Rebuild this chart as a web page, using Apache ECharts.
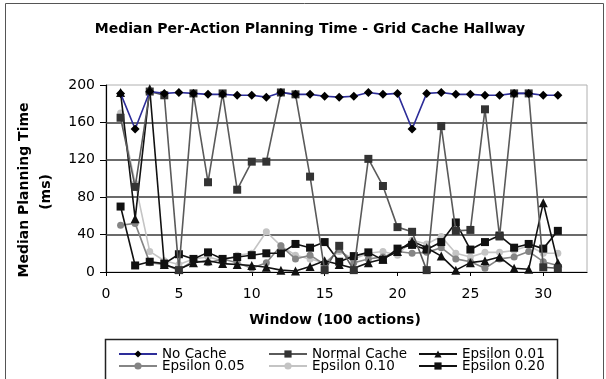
<!DOCTYPE html>
<html>
<head>
<meta charset="utf-8">
<script src="https://cdn.jsdelivr.net/npm/echarts@6/dist/echarts.min.js"></script>
<style>
  html, body { margin: 0; padding: 0; background: #fff; }
  #chart { width: 606px; height: 379px; }
</style>
</head>
<body>
<div id="chart"></div>
<script>
// window numbers (x)
const windows = [1,2,3,4,5,6,7,8,9,10,11,12,13,14,15,16,17,18,19,20,21,22,23,24,25,26,27,28,29,30,31]

// median planning time, ms
const noCache     = [191,153,193,191,192,191,190,190,189,189,187,192,190,190,188,187,188,192,190,191,153,191,192,190,190,189,189,191,191,189,189]
const normalCache = [165,91,193,189,2,191,96,191,88,118,118,192,190,102,2,28,2,121,92,48,43,2,156,44,45,174,38,191,191,5,4]
const eps001      = [192,57,196,8,3,10,12,9,8,7,5,2,1,6,12,8,4,10,14,22,33,26,17,2,10,12,16,4,3,74,10]
const eps005      = [50,52,10,8,2,12,10,14,10,4,10,28,14,18,8,24,10,14,16,22,20,21,26,14,11,4,14,16,22,11,7]
const eps010      = [170,95,22,12,8,14,16,12,18,20,43,28,18,14,10,22,14,20,22,18,34,30,38,20,16,21,21,23,28,20,20]
const eps020      = [70,7,11,9,19,14,21,14,16,18,20,20,30,26,32,11,17,21,13,25,29,24,32,53,24,32,39,26,30,25,44]

const yTicks = [0, 40, 80, 120, 160, 200]
const gridLines = [40, 80, 120, 160]

const font = 'DejaVu Sans'

const pairs = (arr) => windows.map((w, i) => [w, arr[i]])

const mkSeries = (name, arr, symbol, size, lineColor, markColor, z) => ({
  name: name,
  type: 'line',
  data: pairs(arr),
  symbol: symbol,
  symbolSize: size,
  z: z,
  lineStyle: { color: lineColor, width: 1.6 },
  itemStyle: { color: markColor, borderWidth: 0 },
  emphasis: { disabled: true },
})

const series = [
  mkSeries('Epsilon 0.10', eps010, 'circle', 7, '#c4c4c4', '#c4c4c4', 2),
  mkSeries('Epsilon 0.05', eps005, 'circle', 7, '#858585', '#858585', 3),
  mkSeries('Epsilon 0.20', eps020, 'rect', 8, '#111', '#111', 4),
  mkSeries('Epsilon 0.01', eps001, 'triangle', 9, '#111', '#111', 5),
  mkSeries('Normal Cache', normalCache, 'rect', 8, '#5a5a5a', '#333', 6),
  mkSeries('No Cache', noCache, 'diamond', 9, '#2d2d99', '#000', 7),
]

// gridlines as mark lines so the top border stays light
series[0].markLine = {
  silent: true,
  symbol: 'none',
  label: { show: false },
  lineStyle: { color: '#3a3a3a', width: 1.5, type: 'solid' },
  data: gridLines.map((v) => ({ yAxis: v })),
  z: 1,
}

const legendText = { fontFamily: font, fontSize: 13.5, color: '#000', width: 104, lineHeight: 12 }

const chart = echarts.init(document.getElementById('chart'), null, { renderer: 'canvas' })

chart.setOption({
  animation: false,
  backgroundColor: '#fff',
  grid: {
    left: 106, top: 85, width: 481, height: 187,
    show: true, borderColor: '#b0b0b0', borderWidth: 1, backgroundColor: 'transparent',
  },
  xAxis: {
    type: 'value',
    min: 0, max: 33, interval: 5,
    axisLine: { show: true, onZero: false, lineStyle: { color: '#000', width: 1.2 } },
    axisTick: { show: true, inside: false, length: 4, lineStyle: { color: '#000' } },
    axisLabel: { fontFamily: font, fontSize: 14, color: '#000', margin: 15, showMaxLabel: false },
    splitLine: { show: false },
  },
  yAxis: {
    type: 'value',
    min: yTicks[0], max: yTicks[yTicks.length - 1], interval: 40,
    axisLine: { show: true, lineStyle: { color: '#000', width: 1.2 } },
    axisTick: { show: true, length: 6, lineStyle: { color: '#000' } },
    axisLabel: { fontFamily: font, fontSize: 14, color: '#000', margin: 11 },
    splitLine: { show: false },
  },
  legend: [
    {
      data: ['No Cache', 'Normal Cache', 'Epsilon 0.01'],
      left: 113, top: 342, orient: 'horizontal',
      itemWidth: 38, itemHeight: 9, itemGap: 2,
      textStyle: legendText, selectedMode: false,
    },
    {
      data: ['Epsilon 0.05', 'Epsilon 0.10', 'Epsilon 0.20'],
      left: 113, top: 354, orient: 'horizontal',
      itemWidth: 38, itemHeight: 9, itemGap: 2,
      textStyle: legendText, selectedMode: false,
    },
  ],
  graphic: [
    // outer frame
    { type: 'rect', shape: { x: 5.5, y: 3.5, width: 598, height: 400 }, style: { fill: 'none', stroke: '#555', lineWidth: 1 }, silent: true },
    // legend box
    { type: 'rect', shape: { x: 105.5, y: 339.5, width: 452, height: 60 }, style: { fill: 'none', stroke: '#222', lineWidth: 1.5 }, silent: true },
    { type: 'text', x: 310, y: 29, style: { text: 'Median Per-Action Planning Time - Grid Cache Hallway', font: 'bold 14px "DejaVu Sans"', fill: '#000', textAlign: 'center', textVerticalAlign: 'middle' } },
    { type: 'text', x: 335, y: 320, style: { text: 'Window (100 actions)', font: 'bold 14px "DejaVu Sans"', fill: '#000', textAlign: 'center', textVerticalAlign: 'middle' } },
    { type: 'text', x: 24, y: 190, rotation: Math.PI / 2, style: { text: 'Median Planning Time', font: 'bold 14px "DejaVu Sans"', fill: '#000', textAlign: 'center', textVerticalAlign: 'middle' } },
    { type: 'text', x: 46, y: 192, rotation: Math.PI / 2, style: { text: '(ms)', font: 'bold 14px "DejaVu Sans"', fill: '#000', textAlign: 'center', textVerticalAlign: 'middle' } },
  ],
  series: series,
})
</script>
</body>
</html>
